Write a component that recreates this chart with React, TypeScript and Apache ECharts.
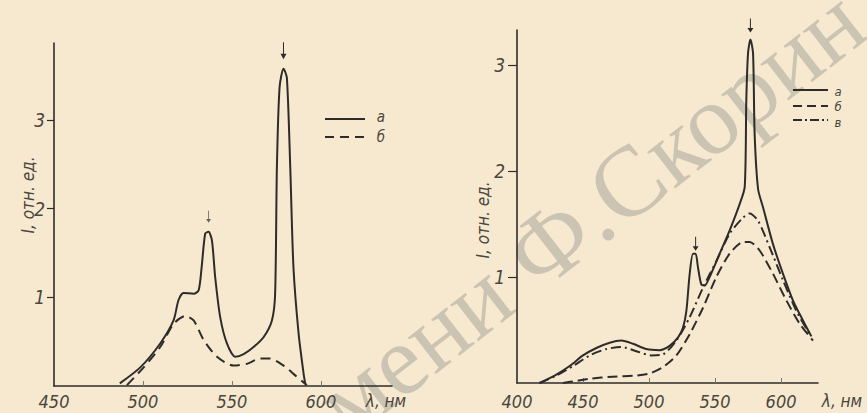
import React, { useEffect, useRef } from "react";
import * as echarts from "echarts";

// ---- Left panel data ----
const leftTicksX = [450, 500, 550, 600];
const leftTicksY = [1, 2, 3];
const leftNmA = [487, 498.5, 509.7, 517.2, 520, 522.8, 528.5, 531.3, 533, 535, 536.9, 538.8, 540.6, 543.4, 547.2, 551.9, 556.6, 562.2, 567.8, 572.5, 574.3, 575.3, 576.8, 579, 580.9, 582.8, 584.6, 587.5, 590.3, 591.2];
const leftIA = [0.03, 0.21, 0.48, 0.74, 0.97, 1.05, 1.04, 1.08, 1.34, 1.72, 1.74, 1.64, 1.23, 0.78, 0.48, 0.33, 0.36, 0.44, 0.55, 0.74, 1.04, 2.47, 3.37, 3.58, 3.48, 2.47, 1.34, 0.59, 0.14, 0.03];
const leftNmB = [491, 500.4, 509.7, 517.2, 523.8, 528.5, 534.1, 541.6, 551, 558.4, 565.9, 571.5, 579, 585.6, 592.1];
const leftIB = [0.01, 0.21, 0.44, 0.7, 0.79, 0.74, 0.52, 0.33, 0.23, 0.25, 0.31, 0.31, 0.23, 0.12, 0.01];

// ---- Right panel data ----
const rightTicksX = [400, 450, 500, 550, 600];
const rightTicksY = [1, 2, 3];
const rightNmA = [417.2, 429.8, 439.9, 450, 460.1, 470.2, 479, 487.9, 498, 508, 515.6, 522, 525.7, 528.3, 530.8, 533.3, 535.3, 537.1, 539.6, 542.2, 545.9, 553.5, 561.1, 568.7, 572.5, 573.7, 575, 576.8, 578.8, 580, 582.6, 586.3, 593.9, 601.5, 609, 616.6, 623];
const rightIA = [0, 0.08, 0.16, 0.26, 0.33, 0.38, 0.4, 0.37, 0.32, 0.31, 0.35, 0.43, 0.52, 0.68, 1.03, 1.22, 1.22, 1.09, 0.93, 0.92, 1.0, 1.22, 1.44, 1.69, 1.85, 2.67, 3.11, 3.24, 3.11, 2.35, 1.83, 1.66, 1.31, 1.03, 0.78, 0.59, 0.44];
const rightNmB = [434.8, 445, 455, 472.7, 490.4, 500.5, 510.6, 520.7, 530.8, 540.9, 551, 561.1, 571.2, 576.2, 583.8, 593.9, 604, 614.1, 624.2];
const rightIB = [0, 0.02, 0.04, 0.06, 0.07, 0.09, 0.15, 0.26, 0.46, 0.71, 1.0, 1.22, 1.33, 1.33, 1.25, 1.03, 0.78, 0.56, 0.4];
const rightNmV = [417, 429.8, 442.4, 455, 467.7, 479, 490.4, 501.8, 510.6, 520.7, 530.8, 540.9, 551, 561.1, 571.2, 576.2, 582.6, 591.4, 601.5, 611.6, 621.7];
const rightIV = [0, 0.07, 0.16, 0.26, 0.32, 0.34, 0.3, 0.26, 0.27, 0.4, 0.62, 0.9, 1.15, 1.41, 1.56, 1.6, 1.53, 1.28, 0.97, 0.68, 0.46];

const legendNames = ["а", "б", "в"];
const axisTitleY = "I, отн. ед.";
const axisTitleX = "λ, нм";
const watermark = "мени Ф.Скорин";

const zip = (xs: number[], ys: number[]) => xs.map((x, i) => [x, ys[i]]);

const INK = "#2e2c2a";
const TXT = "#4a4640";
const FONT = "'Liberation Sans Narrow', 'DejaVu Sans Condensed', sans-serif";
const ARROW = "path://M9,0 L11,0 L11,30 L16,30 L10,44 L4,30 L9,30 Z";

export default function App() {
  const ref = useRef<HTMLDivElement>(null);
  useEffect(() => {
    if (!ref.current) return;
    const chart = echarts.init(ref.current, null, { renderer: "svg" });

    const axisLabelStyle = {
      color: TXT,
      fontFamily: FONT,
      fontStyle: "italic" as const,
      fontSize: 18,
    };

    const xAxis = (gridIndex: number, min: number, max: number, labels: number[], ticks: number[], margin: number) => ({
      type: "value",
      gridIndex,
      min,
      max,
      interval: 50,
      axisLine: { show: true, onZero: false, lineStyle: { color: INK, width: 1.6 } },
      axisTick: { show: true, inside: true, length: 5, customValues: ticks, lineStyle: { color: "#777", width: 1 } },
      axisLabel: { ...axisLabelStyle, margin, customValues: labels },
      splitLine: { show: false },
    });
    const yAxis = (gridIndex: number, max: number, labels: number[], tickLen: number, margin: number) => ({
      type: "value",
      gridIndex,
      min: 0,
      max,
      interval: 1,
      axisLine: { show: true, onZero: false, lineStyle: { color: INK, width: 1.6 } },
      axisTick: { show: true, inside: false, length: tickLen, customValues: labels, lineStyle: { color: INK, width: 1.2 } },
      axisLabel: { ...axisLabelStyle, fontSize: 19, margin, customValues: labels },
      splitLine: { show: false },
    });

    const line = (
      name: string,
      data: number[][],
      xi: number,
      type: any,
      width: number,
      markPts: any[] = []
    ) => ({
      name,
      type: "line",
      xAxisIndex: xi,
      yAxisIndex: xi,
      data,
      z: 5,
      showSymbol: false,
      smooth: 0.25,
      lineStyle: { color: INK, width, type },
      markPoint: markPts.length
        ? {
            silent: true,
            label: { show: false },
            data: markPts,
          }
        : undefined,
    });

    const arrow = (coord: number[], h: number, w: number, off: number, color = INK) => ({
      coord,
      symbol: ARROW,
      symbolSize: [w, h],
      symbolOffset: [0, off],
      itemStyle: { color },
    });

    const legendLine = (x1: number, x2: number, y: number, dash: any) => ({
      type: "line",
      z: 10,
      shape: { x1, y1: y, x2, y2: y },
      style: { stroke: INK, lineWidth: 2, lineDash: dash },
    });
    const txt = (text: string, x: number, y: number, size: number, rotation = 0, align = "center") => ({
      type: "text",
      x,
      y,
      z: 10,
      rotation,
      style: {
        text,
        fill: TXT,
        font: `italic ${size}px ${FONT}`,
        align,
        verticalAlign: "middle",
      },
    });

    chart.setOption({
      animation: false,
      backgroundColor: "#f7e9cf",
      grid: [
        { left: 54, top: 43, width: 338, height: 343 },
        { left: 517, top: 30, width: 301, height: 353 },
      ],
      xAxis: [
        xAxis(0, 450, 640, leftTicksX, [500, 550, 600], 6),
        xAxis(1, 400, 628, rightTicksX, [450, 500, 550, 600], 9),
      ],
      yAxis: [yAxis(0, 3.87, leftTicksY, 7, 9), yAxis(1, 3.33, rightTicksY, 9, 12)],
      series: [
        line(legendNames[0], zip(leftNmA, leftIA), 0, "solid", 2, [
          arrow([579, 3.58], 17, 6, -18),
          arrow([536.9, 1.74], 12, 5, -15, "#6a655e"),
        ]),
        line(legendNames[1], zip(leftNmB, leftIB), 0, [10, 6], 2),
        line(legendNames[0], zip(rightNmA, rightIA), 1, "solid", 2, [
          arrow([576.8, 3.24], 14, 6, -14),
          arrow([535.3, 1.22], 14, 6, -10),
        ]),
        line(legendNames[1], zip(rightNmB, rightIB), 1, [10, 5], 2),
        line(legendNames[2], zip(rightNmV, rightIV), 1, [10, 4, 2, 4], 2),
      ],
      graphic: [
        {
          type: "text",
          x: 590,
          y: 212,
          rotation: 0.66,
          z: 0,
          zlevel: 0,
          style: {
            text: watermark,
            fill: "rgba(140,140,135,0.4)",
            font: `100px 'Liberation Serif', serif`,
            align: "center",
            verticalAlign: "middle",
          },
        },
        // left panel legend + titles
        legendLine(325, 365, 119, [0]),
        legendLine(325, 365, 137, [9, 6]),
        txt(legendNames[0], 381, 117, 15),
        txt(legendNames[1], 381, 137, 15),
        txt(axisTitleY, 28, 195, 17, Math.PI / 2),
        txt(axisTitleX, 386, 401, 17),
        // right panel legend + titles
        legendLine(793, 828, 90, [0]),
        legendLine(793, 828, 106, [9, 5]),
        legendLine(793, 828, 120, [9, 3, 2, 3]),
        txt(legendNames[0], 838, 91, 13),
        txt(legendNames[1], 838, 106, 13),
        txt(legendNames[2], 838, 122, 13),
        txt(axisTitleY, 483, 220, 17, Math.PI / 2),
        txt(axisTitleX, 842, 401, 17),
      ],
    });
    return () => chart.dispose();
  }, []);
  return (
    <div
      ref={ref}
      style={{ position: "fixed", left: 0, top: 0, width: 867, height: 413 }}
    />
  );
}
